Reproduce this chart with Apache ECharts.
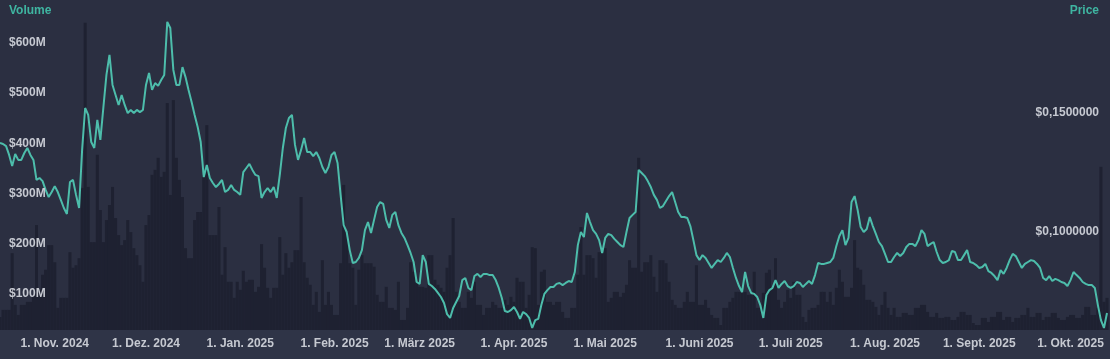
<!DOCTYPE html>
<html>
<head>
<meta charset="utf-8">
<script src="https://cdn.jsdelivr.net/npm/echarts@6/dist/echarts.min.js"></script>
<style>
html,body{margin:0;padding:0;background:#2b2f41;}
#chart{width:1110px;height:359px;}
</style>
</head>
<body>
<div id="chart"></div>
<script>
// Daily data, first day 2024-10-14
const startDay = '2024-10-14';

const price = [
0.1313,0.1309,0.1300,0.1263,0.1216,0.1267,0.1242,0.1242,0.1271,0.1292,
0.1263,0.1242,0.1158,0.1166,0.1153,0.1116,0.1086,0.1107,0.1132,0.1107,
0.1074,0.1040,0.1015,0.1149,0.1158,0.1095,0.1040,0.1284,0.1460,0.1431,
0.1317,0.1292,0.1410,0.1326,0.1464,0.1599,0.1683,0.1557,0.1515,0.1473,
0.1515,0.1473,0.1439,0.1452,0.1439,0.1452,0.1443,0.1452,0.1557,0.1607,
0.1536,0.1565,0.1553,0.1578,0.1599,0.1822,0.1796,0.1620,0.1557,0.1557,
0.1632,0.1590,0.1536,0.1485,0.1431,0.1380,0.1317,0.1170,0.1221,0.1166,
0.1145,0.1128,0.1141,0.1158,0.1107,0.1116,0.1137,0.1116,0.1107,0.1095,
0.1191,0.1208,0.1225,0.1200,0.1179,0.1174,0.1082,0.1107,0.1124,0.1107,
0.1128,0.1082,0.1179,0.1292,0.1376,0.1418,0.1431,0.1305,0.1242,0.1284,
0.1334,0.1275,0.1275,0.1258,0.1275,0.1250,0.1212,0.1187,0.1212,0.1263,
0.1275,0.1229,0.1095,0.0968,0.0939,0.0863,0.0809,0.0813,0.0830,0.0863,
0.0947,0.0981,0.0935,0.0990,0.1044,0.1065,0.1057,0.0990,0.0956,0.1011,
0.1023,0.0968,0.0935,0.0914,0.0884,0.0851,0.0813,0.0729,0.0721,0.0842,
0.0813,0.0721,0.0712,0.0700,0.0683,0.0666,0.0641,0.0594,0.0578,0.0620,
0.0645,0.0670,0.0737,0.0746,0.0704,0.0695,0.0754,0.0763,0.0750,0.0763,
0.0763,0.0758,0.0758,0.0737,0.0704,0.0662,0.0607,0.0603,0.0611,0.0624,
0.0603,0.0574,0.0603,0.0594,0.0578,0.0536,0.0569,0.0574,0.0632,0.0679,
0.0695,0.0708,0.0708,0.0721,0.0725,0.0716,0.0725,0.0733,0.0729,0.0771,
0.0884,0.0939,0.0918,0.1019,0.0981,0.0947,0.0931,0.0905,0.0851,0.0914,
0.0931,0.0926,0.0910,0.0897,0.0884,0.0876,0.0939,0.0998,0.1011,0.1023,
0.1200,0.1187,0.1174,0.1153,0.1128,0.1095,0.1074,0.1040,0.1048,0.1069,
0.1090,0.1107,0.1065,0.1023,0.1002,0.1002,0.0998,0.0964,0.0905,0.0842,
0.0821,0.0842,0.0830,0.0809,0.0788,0.0805,0.0821,0.0813,0.0830,0.0851,
0.0834,0.0788,0.0746,0.0712,0.0687,0.0771,0.0712,0.0683,0.0679,0.0666,
0.0632,0.0578,0.0674,0.0695,0.0704,0.0737,0.0704,0.0721,0.0733,0.0712,
0.0704,0.0712,0.0729,0.0725,0.0708,0.0721,0.0733,0.0721,0.0758,0.0809,
0.0805,0.0805,0.0809,0.0813,0.0830,0.0880,0.0922,0.0947,0.0884,0.0914,
0.1065,0.1090,0.1032,0.0960,0.0939,0.0952,0.1002,0.0964,0.0931,0.0897,
0.0880,0.0847,0.0813,0.0813,0.0834,0.0851,0.0838,0.0851,0.0876,0.0889,
0.0889,0.0880,0.0905,0.0947,0.0931,0.0880,0.0889,0.0897,0.0855,0.0821,
0.0809,0.0813,0.0821,0.0859,0.0855,0.0821,0.0821,0.0842,0.0863,0.0813,
0.0809,0.0800,0.0788,0.0792,0.0805,0.0775,0.0767,0.0754,0.0737,0.0779,
0.0763,0.0788,0.0821,0.0847,0.0838,0.0813,0.0788,0.0805,0.0813,0.0821,
0.0817,0.0805,0.0788,0.0746,0.0737,0.0754,0.0733,0.0742,0.0737,0.0729,
0.0725,0.0712,0.0737,0.0771,0.0758,0.0746,0.0729,0.0721,0.0716,0.0716,
0.0704,0.0632,0.0569,0.0536,0.0599
];

// Volume in millions of USD
const volumeM = [
26,40,40,40,153,50,30,50,50,56,
56,70,209,80,110,120,169,169,135,44,
64,64,64,155,124,129,143,283,612,285,
175,175,349,239,175,219,249,285,223,189,
169,179,219,195,163,149,129,96,209,229,
309,319,343,305,315,452,269,458,343,299,
265,163,143,143,219,235,235,309,408,189,
189,189,245,110,165,96,96,64,96,80,
118,96,100,100,76,86,171,124,84,64,
84,84,185,110,153,124,135,159,159,265,
135,104,90,50,76,36,139,50,76,50,
30,30,133,289,195,133,124,50,120,149,
133,133,133,126,70,56,56,86,44,44,
40,96,20,20,44,135,116,96,86,86,
84,149,149,100,90,84,76,124,149,223,
76,56,44,44,76,64,96,50,50,30,
44,44,56,50,44,44,60,50,66,56,
104,96,96,44,70,165,163,50,116,120,
56,56,50,56,56,36,24,24,44,44,
110,205,110,149,149,143,104,155,155,163,
56,64,76,76,66,74,90,139,124,124,
343,116,135,135,149,106,76,139,139,133,
96,60,50,44,44,56,76,56,56,129,
50,50,60,44,30,24,24,10,44,44,
56,64,76,76,74,76,70,70,116,44,
44,74,114,120,84,143,60,44,56,80,
64,96,70,70,26,16,40,44,44,50,
76,76,56,76,50,84,120,96,66,66,
84,179,124,120,90,60,60,56,46,30,
50,76,44,30,44,26,26,34,34,30,
30,44,44,50,50,36,26,26,34,24,
24,26,26,20,20,26,36,36,30,30,
14,10,10,24,24,16,26,26,36,36,
20,26,26,16,24,24,30,30,44,26,
26,34,34,20,26,26,34,34,24,20,
20,26,30,30,24,24,30,46,46,30,
30,44,325,56,64
];

const tickDates = ['2024-11-01','2024-12-01','2025-01-01','2025-02-01','2025-03-01','2025-04-01',
  '2025-05-01','2025-06-01','2025-07-01','2025-08-01','2025-09-01','2025-10-01'];
const tickLabels = ['1. Nov. 2024','1. Dez. 2024','1. Jan. 2025','1. Feb. 2025','1. März 2025','1. Apr. 2025',
  '1. Mai 2025','1. Juni 2025','1. Juli 2025','1. Aug. 2025','1. Sept. 2025','1. Okt. 2025'];

const t0 = Date.parse(startDay + 'T00:00:00Z');
const dates = price.map((_, i) => new Date(t0 + i * 86400000).toISOString().slice(0, 10));
const volume = volumeM.map(v => v * 1e6);

const FONT = '"Liberation Sans", Arial, sans-serif';
const labelColor = '#c6c9d1';
const teal = '#4dbdab';

const chart = echarts.init(document.getElementById('chart'), null, {renderer: 'canvas'});
chart.setOption({
  animation: false,
  backgroundColor: '#2b2f41',
  graphic: [
    {type: 'rect', silent: true, z: -10, shape: {x: 0, y: 330, width: 1110, height: 29}, style: {fill: '#2f3447'}},
    {type: 'text', left: 9, top: 5, style: {text: 'Volume', fill: '#3fb5a1', font: 'bold 12px ' + FONT}},
    {type: 'text', right: 11, top: 5, style: {text: 'Price', fill: '#3fb5a1', font: 'bold 12px ' + FONT, textAlign: 'right'}}
  ],
  grid: [
    {left: 0, right: 3, top: 15, bottom: 29},
    {left: 0, right: 3, top: 0, bottom: 22.5}
  ],
  xAxis: [
    {
      type: 'category', gridIndex: 0, data: dates, boundaryGap: false,
      axisLine: {show: false}, axisTick: {show: false}, splitLine: {show: false},
      axisLabel: {
        color: labelColor, fontFamily: FONT, fontWeight: 'bold', fontSize: 12, margin: 8,
        interval: (idx, val) => tickDates.indexOf(val) >= 0,
        formatter: val => tickLabels[tickDates.indexOf(val)] || ''
      }
    },
    {
      type: 'category', gridIndex: 1, data: dates, boundaryGap: false, show: false
    }
  ],
  yAxis: [
    {
      type: 'value', gridIndex: 0, position: 'left', min: 0, max: 627.5e6, interval: 100e6, z: 10,
      axisLine: {show: false}, axisTick: {show: false}, splitLine: {show: false},
      axisLabel: {
        inside: true, margin: 9, showMinLabel: false, showMaxLabel: false,
        color: labelColor, fontFamily: FONT, fontWeight: 'bold', fontSize: 12,
        verticalAlign: 'top', padding: [8, 0, 0, 0],
        formatter: v => '$' + Math.round(v / 1e6) + 'M'
      }
    },
    {
      type: 'value', gridIndex: 1, position: 'right', min: 0.05, max: 0.19139, interval: 0.05, z: 10,
      axisLine: {show: false}, axisTick: {show: false}, splitLine: {show: false},
      axisLabel: {
        inside: true, margin: 8, showMinLabel: false, showMaxLabel: false,
        color: labelColor, fontFamily: FONT, fontWeight: 'bold', fontSize: 12,
        verticalAlign: 'top', padding: [8, 0, 0, 0],
        formatter: v => '$' + v.toFixed(7).replace('.', ',')
      }
    }
  ],
  series: [
    {
      type: 'bar', xAxisIndex: 0, yAxisIndex: 0, data: volume,
      barCategoryGap: '0%', itemStyle: {color: '#1e2131'}, silent: true, z: 1
    },
    {
      type: 'line', xAxisIndex: 1, yAxisIndex: 1, data: price,
      showSymbol: false, symbol: 'none', silent: true, z: 5,
      lineStyle: {color: teal, width: 2}
    }
  ]
});
</script>
</body>
</html>
